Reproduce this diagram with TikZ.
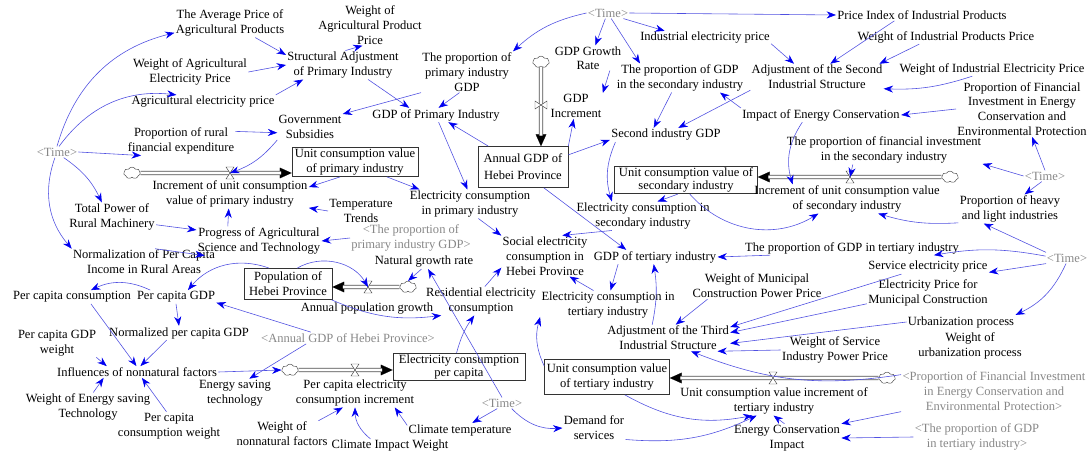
\documentclass[tikz,border=0pt]{standalone}
\usepackage{fontspec}
\setmainfont{Liberation Serif}
\usetikzlibrary{arrows.meta,shapes.symbols}
\definecolor{linkblue}{RGB}{80,80,225}
\definecolor{tipblue}{RGB}{0,0,240}
\definecolor{ghostgray}{RGB}{135,135,135}
\begin{document}
\begin{tikzpicture}
    [x=0.03cm, y=-0.03cm,
    every node/.style={font=\fontsize{10.7}{12.6}\selectfont},
    var/.style={align=center, inner sep=1pt},
    ghost/.style={var, text=ghostgray},
    stock/.style={draw=black!80, align=center, inner sep=1pt, line width=0.6pt, fill=white},
    conn/.style={draw=linkblue, line width=0.5pt, -{Stealth[length=8pt,width=6pt,color=tipblue]}},
    pipe/.style={draw=black!70, double=white, double distance=2.2pt, line width=0.7pt},
    pipetip/.style={draw=white, line width=0.1pt, -{Triangle[length=10pt,width=9pt,color=black]}},
    cloudy/.style={cloud, draw=black!70, fill=white, cloud puffs=7, cloud puff arc=120, aspect=1.5, minimum width=0.5cm, minimum height=0.35cm, inner sep=0pt},
    hvalve/.pic={\draw[black!70, fill=white] (-4,-6) -- (4,-6) -- (-4,6) -- (4,6) -- cycle;},
    vvalve/.pic={\draw[black!70, fill=white] (-6,-4) -- (-6,4) -- (6,-4) -- (6,4) -- cycle;}]
    \useasboundingbox (0,0) rectangle (1091,457);

    \node[var] (avgprice) at (230,23) {The Average Price of\\Agricultural Products};
    \node[var] (wagprod) at (370,25) {Weight of\\Agricultural Product\\Price};
    \node[var] (structadj) at (343,65) {Structural Adjustment\\of Primary Industry};
    \node[var] (wagelec) at (190,72) {Weight of Agricultural\\Electricity Price};
    \node[var] (agelec) at (203,102) {Agricultural electricity price};
    \node[var] (govsub) at (310,127) {Government\\Subsidies};
    \node[var] (rurfin) at (181,141) {Proportion of rural\\financial expenditure};
    \node[ghost] (time1) at (57,152) {<Time>};
    \node[var] (propprim) at (467,72) {The proportion of\\primary industry\\GDP};
    \node[var] (gdpprim) at (436,115) {GDP of Primary Industry};
    \node[ghost] (time2) at (608,13) {<Time>};
    \node[var] (gdpgr) at (588,58) {GDP Growth\\[-1pt]Rate};
    \node[var] (gdpinc) at (576,106) {GDP\\Increment};
    \node[var] (propgdpsec) at (680,78) {The proportion of GDP\\in the secondary industry};
    \node[var] (secgdp) at (666,135) {Second industry GDP};
    \node[var] (indelec) at (705,38) {Industrial electricity price};
    \node[var] (priceidx) at (922,15) {Price Index of Industrial Products};
    \node[var] (wipp) at (946,37) {Weight of Industrial Products Price};
    \node[var] (adjsec) at (817,77) {Adjustment of the Second\\Industrial Structure};
    \node[var] (wiep) at (992,69) {Weight of Industrial Electricity Price};
    \node[var] (propfin) at (1022,109) {Proportion of Financial\\Investment in Energy\\Conservation and\\Environmental Protection};
    \node[var] (impec) at (821,115) {Impact of Energy Conservation};
    \node[var] (propfinsec) at (884,150) {The proportion of financial investment\\in the secondary industry};

    \node[stock, minimum width=3.78cm, minimum height=0.87cm] (ucvprim) at (355,162) {Unit consumption value\\of primary industry};
    \node[stock, minimum width=2.7cm, minimum height=1.23cm] (anngdp) at (523,167) {Annual GDP of\\[2pt]Hebei Province};
    \node[stock, minimum width=4.29cm, minimum height=0.8cm] (ucvsec) at (686,180) {Unit consumption value of\\[-1pt]secondary industry};
    \node[stock, minimum width=2.64cm, minimum height=0.93cm] (popbox) at (288,284) {Population of\\Hebei Province};
    \node[stock, minimum width=3.96cm, minimum height=0.8cm] (elecpc) at (459,367) {Electricity consumption\\[-1pt]per capita};
    \node[stock, minimum width=3.75cm, minimum height=1.05cm] (ucvtert) at (607,377) {Unit consumption value\\of tertiary industry};

    \node[var] (incprim) at (230,194) {Increment of unit consumption\\value of primary industry};
    \node[var] (tempt) at (361,211) {Temperature\\Trends};
    \node[var] (elecprim) at (470,204) {Electricity consumption\\in primary industry};
    \node[var] (totpow) at (112,217) {Total Power of\\Rural Machinery};
    \node[var] (progag) at (259,241) {Progress of Agricultural\\Science and Technology};
    \node[ghost] (propprimghost) at (411,238) {<The proportion of\\primary industry GDP>};
    \node[var] (normrural) at (144,262) {Normalization of Per Capita\\Income in Rural Areas};
    \node[var] (natgrowth) at (424,262) {Natural growth rate};
    \node[var] (socelec) at (545,256) {Social electricity\\consumption in\\Hebei Province};
    \node[var] (gdptert) at (655,257) {GDP of tertiary industry};
    \node[var] (elecsec) at (643,216) {Electricity consumption in\\secondary industry};
    \node[var] (percons) at (72,297) {Per capita consumption};
    \node[var] (pcgdp) at (176,297) {Per capita GDP};
    \node[var] (annpopgr) at (367,309) {Annual population growth};
    \node[var] (reselec) at (481,301) {Residential electricity\\consumption};
    \node[var] (electert) at (608,305) {Electricity consumption in\\tertiary industry};
    \node[var] (normpcgdp) at (179,333) {Normalized per capita GDP};
    \node[var] (pcgdpw) at (57,343) {Per capita GDP\\weight};
    \node[ghost] (anngdpghost) at (348,338) {<Annual GDP of Hebei Province>};
    \node[var] (infl) at (137,372) {Influences of nonnatural factors};
    \node[var] (eneSave) at (235,393) {Energy saving\\technology};
    \node[var] (pcelecinc) at (355,393) {Per capita electricity\\consumption increment};
    \node[var] (weightEST) at (88,407) {Weight of Energy saving\\Technology};
    \node[var] (pccw) at (169,426) {Per capita\\consumption weight};
    \node[var] (wnf) at (282,434) {Weight of\\nonnatural factors};
    \node[var] (climw) at (390,446) {Climate Impact Weight};
    \node[var] (climtemp) at (460,430) {Climate temperature};
    \node[ghost] (time3) at (502,403) {<Time>};
    \node[var] (demserv) at (594,428) {Demand for\\services};
    \node[var] (adjthird) at (668,338) {Adjustment of the Third\\Industrial Structure};
    \node[var] (wmcp) at (757,286) {Weight of Municipal\\Construction Power Price};
    \node[var] (wsipp) at (835,350) {Weight of Service\\Industry Power Price};
    \node[var] (ucvinctert) at (774,401) {Unit consumption value increment of\\tertiary industry};
    \node[var] (econimp) at (787,438) {Energy Conservation\\Impact};
    \node[ghost] (propfinghost) at (994,391) {<Proportion of Financial Investment\\in Energy Conservation and\\Environmental Protection>};
    \node[ghost] (propgdptertghost) at (977,437) {<The proportion of GDP\\in tertiary industry>};
    \node[var] (urbw) at (970,346) {Weight of\\urbanization process};
    \node[var] (urb) at (961,322) {Urbanization process};
    \node[var] (epmc) at (928,293) {Electricity Price for\\Municipal Construction};
    \node[var] (servelec) at (928,267) {Service electricity price};
    \node[var] (propgdptert) at (852,248) {The proportion of GDP in tertiary industry};
    \node[ghost] (time4) at (1067,258) {<Time>};
    \node[var] (prophl) at (1010,209) {Proportion of heavy\\and light industries};
    \node[ghost] (time5) at (1045,176) {<Time>};
    \node[var] (incsec) at (847,199) {Increment of unit consumption value\\of secondary industry};

    \node[cloudy] (cprim) at (132,173) {};
    \node[cloudy] (cgdp) at (541,62) {};
    \node[cloudy] (csec) at (950,177) {};
    \node[cloudy] (cpop) at (408,287) {};
    \node[cloudy] (cpc) at (290,370) {};
    \node[cloudy] (ctert) at (887,378) {};
    \coordinate (vprim) at (230,173);
    \coordinate (vgdp) at (541,105);
    \coordinate (vsec) at (850,177);
    \coordinate (vpop) at (368,287);
    \coordinate (vpc) at (355,370);
    \coordinate (vtert) at (773,378);

    \draw[pipetip] (vprim) -- (ucvprim.west |- cprim);
    \draw[pipe, shorten >=9pt] (cprim.east) -- (ucvprim.west |- cprim);
    \draw[pipetip] (vgdp) -- (cgdp |- anngdp.north);
    \draw[pipe, shorten >=9pt] (cgdp.south) -- (cgdp |- anngdp.north);
    \draw[pipetip] (vsec) -- (ucvsec.east |- csec);
    \draw[pipe, shorten >=9pt] (csec.west) -- (ucvsec.east |- csec);
    \draw[pipetip] (vpop) -- (popbox.east |- cpop);
    \draw[pipe, shorten >=9pt] (cpop.west) -- (popbox.east |- cpop);
    \draw[pipetip] (vpc) -- (elecpc.west |- cpc);
    \draw[pipe, shorten >=9pt] (cpc.east) -- (elecpc.west |- cpc);
    \draw[pipetip] (vtert) -- (ucvtert.east |- ctert);
    \draw[pipe, shorten >=9pt] (ctert.west) -- (ucvtert.east |- ctert);
    \pic at (vprim) {hvalve};
    \pic at (vgdp) {vvalve};
    \pic at (vsec) {hvalve};
    \pic at (vpop) {hvalve};
    \pic at (vpc) {hvalve};
    \pic at (vtert) {hvalve};

    \draw[conn] (time1.north) to[bend left=30] (avgprice.190);
    \draw[conn] (time1.70) to[bend left=30] (agelec.165);
    \draw[conn] (time1.east) -- (rurfin.200);
    \draw[conn] (time1.-40) to[bend left=15] (totpow.125);
    \draw[conn] (time1.-110) to[bend right=30] (normrural.north west);
    \draw[conn] (avgprice.-30) -- (structadj.170);
    \draw[conn] (wagelec.east) -- (structadj.west);
    \draw[conn] (agelec.north east) -- (structadj.200);
    \draw[conn] (structadj.80) -- (wagprod.250);
    \draw[conn] (structadj.-30) -- (gdpprim.165);
    \draw[conn] (propprim.south west) -- (govsub.north east);
    \draw[conn] (propprim.250) -- (gdpprim.70);
    \draw[conn] (time2.west) to[bend right=15] (propprim.north east);
    \draw[conn] (anngdp.149) -- (gdpprim.-30);
    \draw[conn] (rurfin.10) -- (govsub.190);
    \draw[conn] (govsub.south west) to[bend left=15] (vprim);
    \draw[conn] (ucvprim.-135) -- (incprim.5);
    \draw[conn] (tempt.west) -- (incprim.-10);
    \draw[conn] (progag.155) -- (incprim.-95);
    \draw[conn] (totpow.-10) -- (progag.170);
    \draw[conn] (normrural.50) -- (progag.195);
    \draw[conn] (propprimghost.west) -- (progag.east);
    \draw[conn] (ucvprim.-25) -- (elecprim.164);
    \draw[conn] (gdpprim.-70) -- (elecprim.100);
    \draw[conn] (elecprim.-60) -- (socelec.155);
    \draw[conn] (popbox.140) to[bend right=35] (pcgdp.30);
    \draw[conn] (popbox.60) to[bend left=45] (vpop);
    \draw[conn] (natgrowth.-110) -- (cpop.north);
    \draw[conn] (pcgdp.165) to[bend right=25] (percons.20);
    \draw[conn] (anngdpghost.171) -- (pcgdp.-8);
    \draw[conn] (pcgdp.south) -- (normpcgdp.north);
    \draw[conn] (percons.-20) -- (infl.95);
    \draw[conn] (normpcgdp.-150) -- (infl.60);
    \draw[conn] (pcgdpw.-20) -- (infl.169);
    \draw[conn] (weightEST.70) -- (infl.-170);
    \draw[conn] (pccw.100) -- (infl.-50);
    \draw[conn] (infl.east) -- (cpc.west);
    \draw[conn] (anngdpghost.-172) -- (eneSave.45);
    \draw[conn] (wnf.20) -- (pcelecinc.-130);
    \draw[conn] (climw.160) to[bend left=25] (pcelecinc.-90);
    \draw[conn] (climtemp.175) -- (pcelecinc.-20);
    \draw[conn] (time3.-130) -- (climtemp.30);
    \draw[conn] (time3.-30) to[bend right=25] (demserv.west);
    \draw[conn] (time3.north) -- (natgrowth.-60);
    \draw[conn] (reselec.75) -- (socelec.195);
    \draw[conn] (elecpc.100) to[bend left=10] (reselec.-115);
    \draw[conn] (popbox.-20) to[bend right=15] (reselec.200);
    \draw[conn] (anngdp.north east) -- (gdpinc.-100);
    \draw[conn] (gdpgr.-30) -- (gdpinc.north east);
    \draw[conn] (time2.-115) -- (gdpgr.60);
    \draw[conn] (time2.-60) -- (propgdpsec.160);
    \draw[conn] (time2.-20) -- (indelec.170);
    \draw[conn] (time2.east) -- (priceidx.west);
    \draw[conn] (propgdpsec.-120) -- (secgdp.150);
    \draw[conn] (adjsec.south west) -- (secgdp.30);
    \draw[conn] (impec.175) -- (propgdpsec.-20);
    \draw[conn] (indelec.-5) -- (adjsec.150);
    \draw[conn] (priceidx.-168) -- (adjsec.45);
    \draw[conn] (wipp.-165) -- (adjsec.12);
    \draw[conn] (wiep.-160) to[bend left=10] (adjsec.-10);
    \draw[conn] (propfin.west) -- (impec.east);
    \draw[conn] (time5.north) -- (propfin.-70);
    \draw[conn] (time5.west) -- (propfinsec.-8);
    \draw[conn] (time5.-120) -- (prophl.45);
    \draw[conn] (impec.-159) to[bend right=25] (incsec.165);
    \draw[conn] (propfinsec.-155) -- (vsec);
    \draw[conn] (ucvsec.-120) -- (elecsec.45);
    \draw[conn] (secgdp.-172) to[bend right=20] (elecsec.155);
    \draw[conn] (anngdp.15) -- (secgdp.185);
    \draw[conn] (ucvsec.-75) to[bend right=40] (incsec.-153);
    \draw[conn] (prophl.-165) to[bend left=10] (incsec.-25);
    \draw[conn] (time4.165) -- (prophl.-151);
    \draw[conn] (time4.175) to[bend right=10] (propgdptert.-5);
    \draw[conn] (time4.-165) -- (servelec.-5);
    \draw[conn] (time4.-100) to[bend left=20] (urb.north east);
    \draw[conn] (propgdptert.-175) -- (gdptert.east);
    \draw[conn] (anngdp.-45) -- (gdptert.166);
    \draw[conn] (gdptert.-169) -- (electert.80);
    \draw[conn] (adjthird.140) to[bend right=10] (gdptert.-100);
    \draw[conn] (electert.135) -- (socelec.-40);
    \draw[conn] (elecsec.-155) -- (socelec.50);
    \draw[conn] (ucvtert.170) to[bend left=20] (electert.-170);
    \draw[conn] (wmcp.-165) -- (adjthird.60);
    \draw[conn] (servelec.-165) -- (adjthird.10);
    \draw[conn] (epmc.-170) -- (adjthird.5);
    \draw[conn] (urb.west) -- (adjthird.-5);
    \draw[conn] (wsipp.west) -- (adjthird.-15);
    \draw[conn] (propfinghost.170) to[bend left=15] (adjthird.-30);
    \draw[conn] (ucvtert.-45) to[bend right=20] (ucvinctert.-146);
    \draw[conn] (demserv.-20) to[bend right=15] (ucvinctert.-140);
    \draw[conn] (econimp.100) -- (ucvinctert.-92);
    \draw[conn] (propfinghost.south west) -- (econimp.north east);
    \draw[conn] (propgdptertghost.west) -- (econimp.east);
\end{tikzpicture}
\end{document}
